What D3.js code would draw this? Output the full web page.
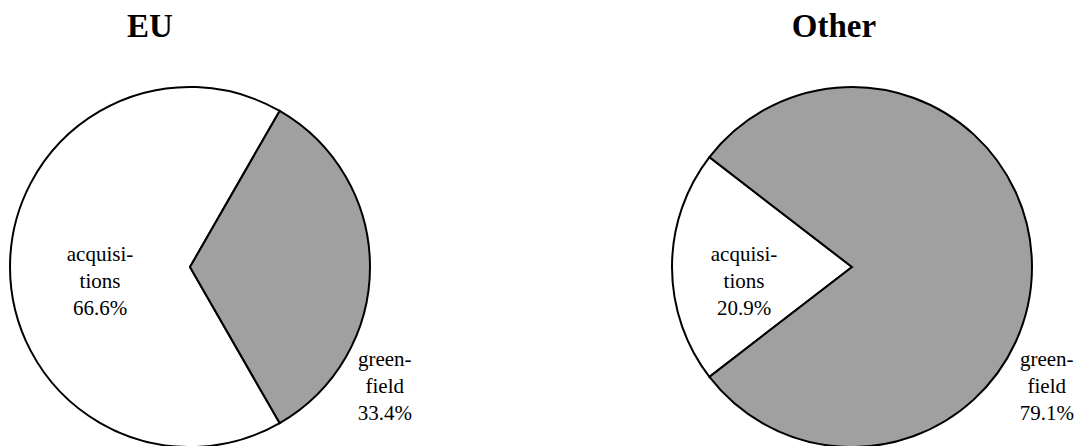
<!DOCTYPE html>
<html>
<head>
<meta charset="utf-8">
<script src="https://cdn.jsdelivr.net/npm/d3@7"></script>
<style>
  html, body { margin: 0; padding: 0; background: #fff; }
  svg { display: block; }
</style>
</head>
<body>
<svg id="chart" width="1079" height="446"></svg>
<script>
// data
const panels = ["EU", "Other"];
const categories = ["acquisitions", "greenfield"];
const labelLines = [["acquisi-", "tions"], ["green-", "field"]];
const shares = {
  EU: [66.6, 33.4],
  Other: [20.9, 79.1],
};

// layout
const R = 180;
const FONT = "Liberation Serif";
const centers = { EU: [190, 267], Other: [852, 267] };
const titleX = { EU: 150, Other: 834 };
const insideDist = { EU: 90, Other: 108 };
const insideShiftY = 21;
const outsideAngle = 122.9 * Math.PI / 180;
const outsideDist = 232;
const lineH = 27;

const color = d3.scaleOrdinal().domain(categories).range(["#ffffff", "#a0a0a0"]);

const svg = d3.select("#chart");

const arc = d3.arc().innerRadius(0).outerRadius(R);

panels.forEach((name) => {
  const vals = shares[name];
  const rows = categories.map((c, i) => ({ cat: c, i, value: vals[i] }));
  const total = d3.sum(vals);
  // acquisitions slice is centred on the left (270deg)
  const acqSpan = (vals[0] / total) * 2 * Math.PI;
  const start = 1.5 * Math.PI - acqSpan / 2;

  const pie = d3.pie()
    .value((d) => d.value)
    .sort(null)
    .startAngle(start)
    .endAngle(start + 2 * Math.PI);

  const [cx, cy] = centers[name];
  const g = svg.append("g").attr("transform", `translate(${cx},${cy})`);

  const arcs = pie(rows);

  g.selectAll("path.slice")
    .data(arcs)
    .enter()
    .append("path")
    .attr("class", "slice")
    .attr("d", arc)
    .attr("fill", (d) => color(d.data.cat))
    .attr("stroke", "#000")
    .attr("stroke-width", 2)
    .attr("stroke-linejoin", "miter");

  // labels: x,y is the baseline of the middle line
  arcs.forEach((a) => {
    let x, y;
    if (a.data.i === 0) {
      const mid = (a.startAngle + a.endAngle) / 2;
      x = Math.sin(mid) * insideDist[name];
      y = -Math.cos(mid) * insideDist[name] + insideShiftY;
    } else {
      x = Math.sin(outsideAngle) * outsideDist;
      y = -Math.cos(outsideAngle) * outsideDist;
    }
    const lines = labelLines[a.data.i].concat([`${a.data.value.toFixed(1)}%`]);
    lines.forEach((ln, k) => {
      g.append("text")
        .attr("x", x)
        .attr("y", y + (k - 1) * lineH)
        .attr("text-anchor", "middle")
        .attr("font-family", FONT)
        .attr("font-size", 21)
        .attr("fill", "#000")
        .text(ln);
    });
  });

  svg.append("text")
    .attr("x", titleX[name])
    .attr("y", 37)
    .attr("text-anchor", "middle")
    .attr("font-family", FONT)
    .attr("font-size", 33)
    .attr("font-weight", "bold")
    .attr("fill", "#000")
    .text(name);
});
</script>
</body>
</html>
